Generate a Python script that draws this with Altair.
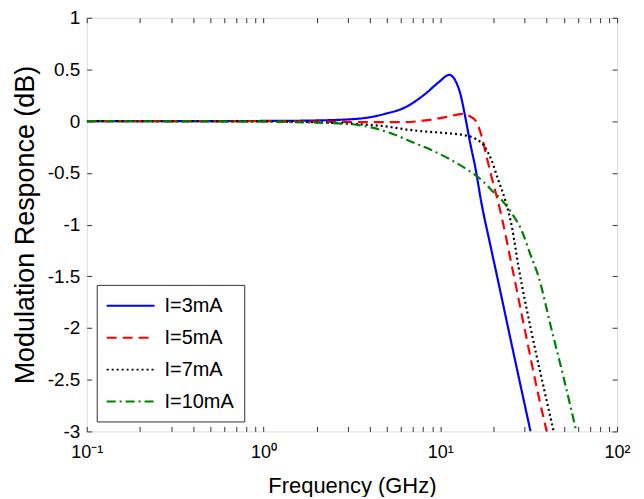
import altair as alt
import pandas as pd

series_names = ["I=3mA", "I=5mA", "I=7mA", "I=10mA"]
colors = ["#0000ff", "#ff0000", "#000000", "#008000"]
dashes = [[1, 0], [10, 6], [2, 3], [9, 4, 2, 4]]

f_3mA = [0.1, 1, 2.0, 3.46, 4.9, 6.35, 8.23, 9.79, 11.25, 12.16, 12.98, 13.85, 14.77, 15.76, 17.1, 19.2, 21.3, 25.2, 32.4]
v_3mA = [0, 0.002, 0.007, 0.024, 0.072, 0.135, 0.265, 0.376, 0.448, 0.393, 0.265, 0.039, -0.214, -0.443, -0.793, -1.2, -1.556, -2.14, -3.0]

f_5mA = [0.1, 1, 2, 3.94, 6.08, 8.2, 10.7, 12.7, 13.6, 14.6, 15.8, 17.2, 18.3, 19.5, 21.8, 25.4, 30.1, 35.8, 40.0]
v_5mA = [0, 0, -0.005, -0.01, -0.01, 0.007, 0.039, 0.065, 0.072, 0.05, 0.007, -0.154, -0.347, -0.539, -0.86, -1.40, -2.02, -2.64, -3.0]

f_7mA = [0.1, 1, 2, 3.5, 4.9, 6.35, 8.2, 10.7, 13.8, 15.8, 17.9, 19.5, 21.3, 23.3, 25.4, 27.7, 32.9, 39.1, 43.8]
v_7mA = [0, -0.002, -0.01, -0.03, -0.05, -0.079, -0.1, -0.115, -0.137, -0.17, -0.25, -0.378, -0.571, -0.764, -1.02, -1.407, -2.05, -2.63, -3.0]

f_10mA = [0.1, 1, 2, 3.18, 4.12, 5.35, 6.92, 8.97, 11.6, 14.4, 17.2, 19.5, 22.3, 25.4, 28.9, 32.2, 35.9, 42.4, 50.2, 58.8]
v_10mA = [0, -0.005, -0.015, -0.03, -0.063, -0.121, -0.202, -0.282, -0.378, -0.475, -0.571, -0.667, -0.764, -0.892, -1.06, -1.28, -1.5, -2.0, -2.5, -3.0]

x_ticks = [0.1, 0.2, 0.3, 0.4, 0.5, 0.6, 0.7, 0.8, 0.9,
           1, 2, 3, 4, 5, 6, 7, 8, 9,
           10, 20, 30, 40, 50, 60, 70, 80, 90, 100]
x_tick_labels = {0.1: "10⁻¹", 1: "10⁰", 10: "10¹", 100: "10²"}
y_ticks = [-3, -2.5, -2, -1.5, -1, -0.5, 0, 0.5, 1]

rows = []
for name, fs, vs in zip(series_names, [f_3mA, f_5mA, f_7mA, f_10mA], [v_3mA, v_5mA, v_7mA, v_10mA]):
    for f, v in zip(fs, vs):
        rows.append({"series": name, "f": f, "v": v})
df = pd.DataFrame(rows)

label_expr = " : ".join(f"datum.value == {k} ? '{t}'" for k, t in x_tick_labels.items()) + " : ''"

FONT = "Liberation Sans"
x_scale = alt.Scale(type="log", domain=[0.1, 100])
y_scale = alt.Scale(domain=[-3, 1], nice=False)

x_axis_bottom = alt.Axis(orient="bottom", values=x_ticks, labelExpr=label_expr, tickSize=5, offset=-5,
                         domain=False, grid=False, labelPadding=12, labelFlush=False, labelOverlap=False,
                         labelFontSize=18, labelFont=FONT, labelColor="black", tickColor="#333",
                         title="Frequency (GHz)", titleFontSize=22, titleFont=FONT, titleFontWeight="normal",
                         titleColor="black", titlePadding=14)
y_axis_left = alt.Axis(orient="left", values=y_ticks, labelExpr="datum.value + ''", tickSize=5, offset=-5,
                       domain=False, grid=False, labelPadding=7, labelFlush=False, labelOverlap=False,
                       labelFontSize=19, labelFont=FONT, labelColor="black", tickColor="#333",
                       title="Modulation Responce (dB)", titleFontSize=27, titleFont=FONT,
                       titleFontWeight="normal", titleColor="black", titlePadding=8)
x_axis_top = alt.Axis(orient="top", values=x_ticks, labels=False, tickSize=5, offset=-5, domain=False,
                      grid=False, title=None, tickColor="#333")
y_axis_right = alt.Axis(orient="right", values=y_ticks, labels=False, tickSize=5, offset=-5, domain=False,
                        grid=False, title=None, tickColor="#333")

legend = alt.Legend(title=None, orient="none", legendX=10, legendY=268, direction="vertical",
                    strokeColor="#333", fillColor="white", padding=10,
                    symbolType="M-2.4,0H2.4", symbolSize=400, symbolStrokeWidth=2, symbolOffset=13,
                    labelOffset=23, labelFontSize=20, labelFont=FONT, labelColor="black", rowPadding=11,
                    labelExpr="datum.label + '\u00a0\u00a0\u00a0'")

lines = alt.Chart(df).mark_line(strokeWidth=2.2, clip=True, interpolate="monotone").encode(
    x=alt.X("f:Q", scale=x_scale, axis=x_axis_bottom),
    y=alt.Y("v:Q", scale=y_scale, axis=y_axis_left),
    color=alt.Color("series:N", scale=alt.Scale(domain=series_names, range=colors), legend=legend),
    strokeDash=alt.StrokeDash("series:N", scale=alt.Scale(domain=series_names, range=dashes), legend=legend),
    detail="series:N",
)

mirror = alt.Chart(df).mark_line(opacity=0).encode(
    x=alt.X("f:Q", scale=x_scale, axis=x_axis_top),
    y=alt.Y("v:Q", scale=y_scale, axis=y_axis_right),
    detail="series:N",
)

chart = alt.layer(lines, mirror).resolve_axis(x="independent", y="independent").properties(
    width=532, height=415, padding={"left": 3, "top": 0, "right": 5, "bottom": 0}
).configure_view(stroke="#333", strokeWidth=1).configure(background="white")

chart.save("out.html", embed_options={"renderer": "svg", "actions": False})
